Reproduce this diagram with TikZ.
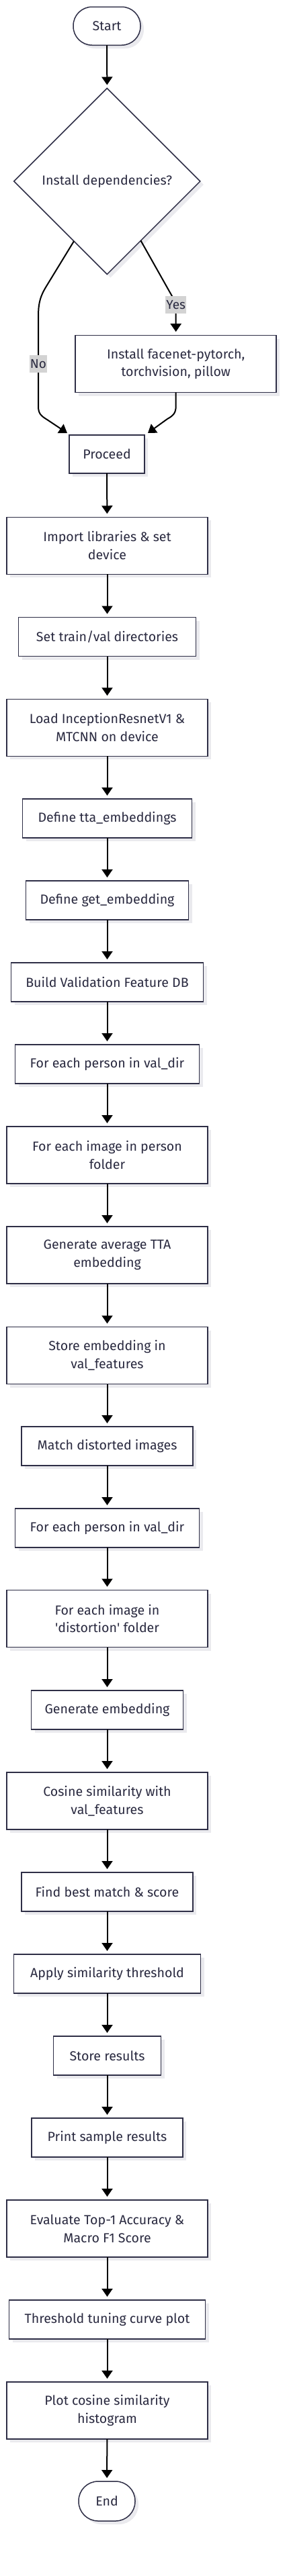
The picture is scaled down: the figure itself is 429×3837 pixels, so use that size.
\documentclass[tikz,border=0pt]{standalone}
\usepackage{fontspec}
\setmainfont{Fira Sans}
\usetikzlibrary{shapes.geometric,arrows.meta,calc,shadows}
\definecolor{ink}{HTML}{2A2A40}
\definecolor{bord}{HTML}{2E2E46}
\definecolor{shad}{HTML}{EAEAEE}
\definecolor{lbl}{HTML}{D3D3D3}
\begin{document}
\begin{tikzpicture}[x=1pt,y=-1pt,
  base/.style={draw=bord, line width=1.5pt, fill=white, text=ink, align=center,
    inner sep=0pt, outer sep=0pt, font=\fontsize{19.6}{26.7}\selectfont,
    drop shadow={shadow xshift=5pt, shadow yshift=-5pt, fill=shad, opacity=1}},
  box/.style={base, rectangle, minimum height=58pt},
  tbox/.style={base, rectangle, minimum height=85pt},
  term/.style={base, rectangle, rounded corners=28pt, minimum height=57pt},
  dia/.style={base, diamond, minimum width=277pt, minimum height=277pt},
  arr/.style={draw=black, line width=2pt, -{Triangle[length=12pt,width=16pt]}},
  elbl/.style={fill=lbl, text=ink, font=\fontsize{19}{22}\selectfont,
    inner xsep=1pt, inner ysep=0pt, minimum height=26pt}
]
\fill[white] (0,0) rectangle (429,3837);
\useasboundingbox (0,0) rectangle (429,3837);

\node[term, minimum width=100pt] (start) at (159,38.75) {Start};
\node[dia] (dec) at (159.3,270) {Install dependencies?};
\node[tbox, minimum width=299pt] (inst) at (261.7,542.2) {Install facenet-pytorch,\\torchvision, pillow};
\node[box, minimum width=112pt, minimum height=57pt] (proc) at (159,676.5) {Proceed};
\node[tbox, minimum width=299pt] (imp) at (159.5,812.75) {Import libraries \& set\\device};
\node[box, minimum width=264pt] (dirs) at (159.5,948.5) {Set train/val directories};
\node[tbox, minimum width=299pt] (load) at (159.5,1083.75) {Load InceptionResnetV1 \&\\MTCNN on device};
\node[box, minimum width=252pt] (tta) at (159.5,1219) {Define tta\_embeddings};
\node[box, minimum width=242pt] (gete) at (159.5,1341) {Define get\_embedding};
\node[box, minimum width=286pt] (build) at (159.5,1463) {Build Validation Feature DB};
\node[box, minimum width=274pt] (persa) at (159.5,1585) {For each person in val\_dir};
\node[tbox, minimum width=299pt] (imga) at (159.5,1720.5) {For each image in person\\folder};
\node[tbox, minimum width=299pt] (avg) at (159.5,1869.5) {Generate average TTA\\embedding};
\node[tbox, minimum width=299pt] (store) at (159.5,2019) {Store embedding in\\val\_features};
\node[box, minimum width=255pt] (match) at (159.5,2154) {Match distorted images};
\node[box, minimum width=274pt] (persb) at (159.5,2276) {For each person in val\_dir};
\node[tbox, minimum width=299pt] (imgb) at (159.5,2411) {For each image in\\\textquotesingle distortion\textquotesingle{} folder};
\node[box, minimum width=226pt] (gen) at (159.5,2547) {Generate embedding};
\node[tbox, minimum width=299pt] (cos) at (159.5,2682.5) {Cosine similarity with\\val\_features};
\node[box, minimum width=255pt] (best) at (159.5,2818) {Find best match \& score};
\node[box, minimum width=278pt] (thr) at (159.5,2940) {Apply similarity threshold};
\node[box, minimum width=160pt] (sres) at (159.5,3062) {Store results};
\node[box, minimum width=225pt] (print) at (159.5,3184) {Print sample results};
\node[tbox, minimum width=299pt] (eval) at (159.5,3319.5) {Evaluate Top-1 Accuracy \&\\Macro F1 Score};
\node[box, minimum width=292pt] (tune) at (159.5,3455) {Threshold tuning curve plot};
\node[tbox, minimum width=299pt] (plot) at (159.5,3590.5) {Plot cosine similarity\\histogram};
\node[term, minimum width=84pt, minimum height=59pt, rounded corners=29pt] (end) at (159,3725.5) {End};

\coordinate (nA) at ($(dec.south)!0.356!(dec.west)$);
\coordinate (yA) at ($(dec.south)!0.362!(dec.east)$);
\coordinate (pL) at ($(proc.north west)+(-3,-3)$);
\coordinate (pR) at ($(proc.north east)+(5,-3)$);

\draw[arr] (start) -- ($(dec.north)+(0,-5)$);
\draw[arr] (nA) -- (68,428) .. controls (58,445) and (57,455) .. (57,475) -- (57,605)
   .. controls (57,615) and (60,619) .. (70,625) -- (pL);
\draw[arr] (yA) -- (252,434) .. controls (259,446) and (261.7,452) .. (261.7,462)
   -- ($(inst.north)+(0,-5.5)$);
\draw[arr] (inst.south) -- (261.7,605) .. controls (261.7,615) and (258,619) .. (249,624) -- (pR);

\foreach \a/\b in {proc/imp, imp/dirs, dirs/load, load/tta, tta/gete, gete/build,
  build/persa, persa/imga, imga/avg, avg/store, store/match, match/persb, persb/imgb,
  imgb/gen, gen/cos, cos/best, best/thr, thr/sres, sres/print, print/eval, eval/tune,
  tune/plot, plot/end}
  \draw[arr, shorten >=5pt] (\a) -- (\b);

\node[elbl] (lno) at (57,542) {No};
\node[elbl] (lyes) at (261.7,454) {Yes};
\end{tikzpicture}
\end{document}
